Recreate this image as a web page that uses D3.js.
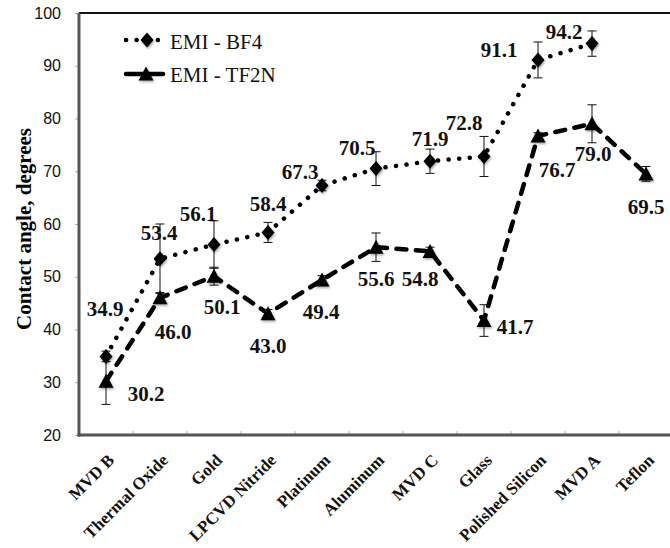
<!DOCTYPE html>
<html>
<head>
<meta charset="utf-8">
<script src="https://cdn.jsdelivr.net/npm/d3@7"></script>
<style>
body { margin: 0; background: #fff; }
</style>
</head>
<body>
<svg width="670" height="548"></svg>
<script>
const categories = ["MVD B", "Thermal Oxide", "Gold", "LPCVD Nitride", "Platinum", "Aluminum", "MVD C", "Glass", "Polished Silicon", "MVD A", "Teflon"];
const bf4 = [34.9, 53.4, 56.1, 58.4, 67.3, 70.5, 71.9, 72.8, 91.1, 94.2, null];
const bf4Err = [1.0, 6.6, 4.5, 1.9, 1.0, 3.2, 2.3, 3.8, 3.4, 2.4, null];
const tf2n = [30.2, 46.0, 50.1, 43.0, 49.4, 55.6, 54.8, 41.7, 76.7, 79.0, 69.5];
const tf2nErr = [4.4, 1.0, 1.7, 0.8, 0.8, 2.7, 0.8, 3.0, 0.6, 3.6, 1.4];
const yTicks = [20, 30, 40, 50, 60, 70, 80, 90, 100];

// label offsets from the marker, in px
const bf4LabelOff = [[-1,-47],[-1,-26],[-16,-31],[0,-28],[-22,-13],[-19,-21],[0,-22],[-20,-33],[-39,-10],[-28,-12],null];
const tf2nLabelOff = [[40,13],[13,34],[8,31],[0,32],[-1,32],[0,32],[-10,28],[31,6],[19,34],[1,30],[0,33]];

const svg = d3.select("svg");
const serif = "'Liberation Serif','Times New Roman',serif";

const x = d3.scaleBand().domain(categories).range([79, 673]);
const y = d3.scaleLinear().domain([20, 100]).range([435, 13]);
const cx = d => x(d) + x.bandwidth() / 2;

// soft shadow under markers
const defs = svg.append("defs");
defs.append("filter").attr("id", "sh").attr("x", "-50%").attr("y", "-50%").attr("width", "200%").attr("height", "200%")
  .append("feDropShadow").attr("dx", 1).attr("dy", 1.5).attr("stdDeviation", 1.3)
  .attr("flood-color", "#000").attr("flood-opacity", 0.35);

// y axis
const yAxis = svg.append("g").attr("transform", "translate(79,0)")
  .call(d3.axisLeft(y).tickValues(yTicks).tickSize(4).tickPadding(14));
yAxis.select(".domain").remove();
yAxis.selectAll(".tick line").attr("stroke", "#aaa");
yAxis.selectAll(".tick text").attr("font-family", "'Liberation Sans',Arial,sans-serif").attr("font-size", 16).attr("fill", "#111");

// x axis (labels)
const xAxis = svg.append("g").attr("transform", "translate(0,435)")
  .call(d3.axisBottom(x).tickSize(0).tickPadding(0));
xAxis.select(".domain").remove();
xAxis.selectAll(".tick text")
  .attr("font-family", serif).attr("font-weight", "bold").attr("font-size", 17).attr("fill", "#111")
  .attr("text-anchor", "end")
  .attr("transform", "translate(5,22) rotate(-45)")
  .attr("dy", "0.35em").attr("y", 0);

// band boundary ticks on x axis
svg.append("g").selectAll("line").data(categories.slice(1)).join("line")
  .attr("x1", d => x(d)).attr("x2", d => x(d))
  .attr("y1", 431).attr("y2", 435)
  .attr("stroke", "#aaa").attr("stroke-width", 1);

// frame
svg.append("line").attr("x1", 79).attr("x2", 670).attr("y1", y(100)).attr("y2", y(100))
  .attr("stroke", "#111").attr("stroke-width", 2);
svg.append("line").attr("x1", 79).attr("x2", 79).attr("y1", y(100)).attr("y2", y(20) + 1.5)
  .attr("stroke", "#555").attr("stroke-width", 3);
svg.append("line").attr("x1", 77.5).attr("x2", 670).attr("y1", y(20)).attr("y2", y(20))
  .attr("stroke", "#555").attr("stroke-width", 3);

// y title
svg.append("text")
  .attr("transform", "translate(24,229) rotate(-90)")
  .attr("text-anchor", "middle").attr("dominant-baseline", "central")
  .attr("font-family", serif).attr("font-weight", "bold").attr("font-size", 21)
  .text("Contact angle, degrees");

const diamond = "M0,-7.5L6.5,0L0,7.5L-6.5,0Z";
const triangle = "M0,-7.5L7.5,6.5L-7.5,6.5Z";

function series(vals, errs, offs, dash, sym) {
  const idx = vals.map((v, i) => i).filter(i => vals[i] != null);
  const line = d3.line().x(i => cx(categories[i])).y(i => y(vals[i]));
  const g = svg.append("g");
  g.append("path").attr("d", line(idx)).attr("fill", "none")
    .attr("stroke", "#000").attr("stroke-width", 4.5)
    .attr("stroke-linecap", "round").attr("stroke-dasharray", dash);
  // error bars
  const eb = g.append("g").selectAll("g").data(idx).join("g")
    .attr("stroke", "#111").attr("stroke-width", 1);
  eb.append("line").attr("x1", i => cx(categories[i])).attr("x2", i => cx(categories[i]))
    .attr("y1", i => y(vals[i] - errs[i])).attr("y2", i => y(vals[i] + errs[i]));
  eb.append("line").attr("x1", i => cx(categories[i]) - 4.5).attr("x2", i => cx(categories[i]) + 4.5)
    .attr("y1", i => y(vals[i] - errs[i])).attr("y2", i => y(vals[i] - errs[i]));
  eb.append("line").attr("x1", i => cx(categories[i]) - 4.5).attr("x2", i => cx(categories[i]) + 4.5)
    .attr("y1", i => y(vals[i] + errs[i])).attr("y2", i => y(vals[i] + errs[i]));
  // markers
  g.append("g").selectAll("path").data(idx).join("path")
    .attr("d", sym).attr("fill", "#000").attr("filter", "url(#sh)")
    .attr("transform", i => `translate(${cx(categories[i])},${y(vals[i])})`);
  // value labels
  g.append("g").selectAll("text").data(idx).join("text")
    .attr("x", i => cx(categories[i]) + offs[i][0])
    .attr("y", i => y(vals[i]) + offs[i][1])
    .attr("text-anchor", "middle").attr("dominant-baseline", "central")
    .attr("font-family", serif).attr("font-weight", "bold").attr("font-size", 21)
    .attr("fill", "#111")
    .text(i => vals[i].toFixed(1));
}

series(bf4, bf4Err, bf4LabelOff, "0.1 10.5", diamond);
series(tf2n, tf2nErr, tf2nLabelOff, "10 9.5", triangle);

// legend
const lg = svg.append("g");
lg.append("line").attr("x1", 126).attr("x2", 164).attr("y1", 40).attr("y2", 40)
  .attr("stroke", "#000").attr("stroke-width", 4.5).attr("stroke-linecap", "round").attr("stroke-dasharray", "0.1 10.5");
lg.append("path").attr("d", diamond).attr("transform", "translate(147,40)").attr("filter", "url(#sh)");
lg.append("line").attr("x1", 126).attr("x2", 163).attr("y1", 74).attr("y2", 74)
  .attr("stroke", "#000").attr("stroke-width", 4.5).attr("stroke-linecap", "round");
lg.append("path").attr("d", triangle).attr("transform", "translate(146,74)").attr("filter", "url(#sh)");
lg.selectAll("text").data(["EMI - BF4", "EMI - TF2N"]).join("text")
  .attr("x", 170).attr("y", (d, i) => i ? 75 : 42)
  .attr("dominant-baseline", "central")
  .attr("font-family", serif).attr("font-size", 21).attr("fill", "#111")
  .text(d => d);
</script>
</body>
</html>
